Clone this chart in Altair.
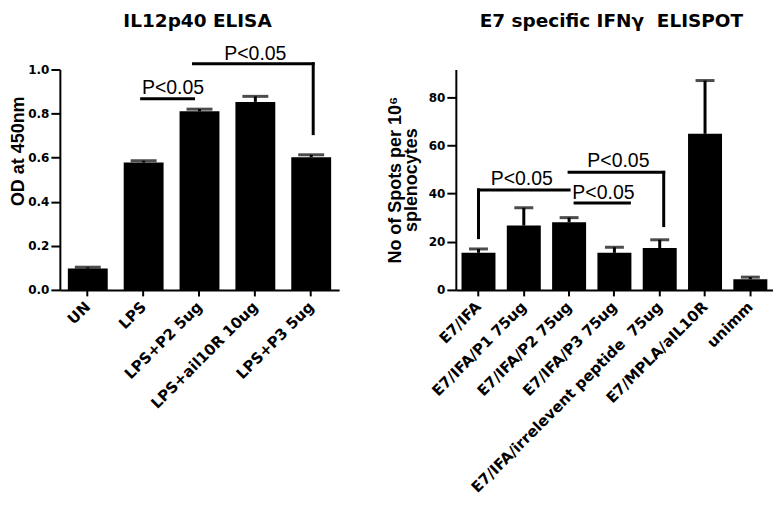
import altair as alt
import pandas as pd

# ---------------- Panel A: IL12p40 ELISA ----------------
elisa_title = ["IL12p40 ELISA"]
elisa_ytitle = ["OD at 450nm"]
elisa_groups = ["UN", "LPS", "LPS+P2 5ug", "LPS+ail10R 10ug", "LPS+P3 5ug"]
elisa_od = [0.097, 0.578, 0.810, 0.853, 0.602]
elisa_sem = [0.006, 0.008, 0.010, 0.025, 0.011]
elisa_ticks = [0, 0.2, 0.4, 0.6, 0.8, 1.0]

# significance brackets: horizontal segments (from group, to group, level)
elisa_sig_from = ["LPS", "LPS+P2 5ug"]
elisa_sig_to = ["LPS+P2 5ug", "LPS+P3 5ug"]
elisa_sig_level = [0.867, 1.026]
# vertical drops (group, low, high)
elisa_drop_group = ["LPS+P3 5ug"]
elisa_drop_low = [0.709]
elisa_drop_high = [1.026]
# p-value labels (group, level)
elisa_p_group = ["LPS", "LPS+ail10R 10ug"]
elisa_p_level = [0.89, 1.044]
elisa_p_text = ["P<0.05", "P<0.05"]

# ---------------- Panel B: E7 specific IFNγ ELISPOT ----------------
spot_title = ["E7 specific IFN\u03b3\u00a0 ELISPOT"]
spot_ytitle = ["No of Spots per 10\u2076", "splenocytes"]
spot_groups = ["E7/IFA", "E7/IFA/P1 75ug", "E7/IFA/P2 75ug", "E7/IFA/P3 75ug",
               "E7/IFA/irrelevent peptide\u00a0 75ug", "E7/MPLA/aIL10R", "unimm"]
spot_mean = [15.4, 26.7, 28.1, 15.4, 17.4, 64.8, 4.4]
spot_sem = [1.6, 7.4, 1.9, 2.3, 3.4, 22.1, 0.9]
spot_ticks = [0, 20, 40, 60, 80]

spot_sig_from = ["E7/IFA", "E7/IFA/P2 75ug", "E7/IFA/P2 75ug"]
spot_sig_to = ["E7/IFA/P2 75ug", "E7/IFA/irrelevent peptide\u00a0 75ug", "E7/IFA/P3 75ug"]
spot_sig_level = [41.5, 48.8, 36.1]
spot_drop_group = ["E7/IFA", "E7/IFA/irrelevent peptide\u00a0 75ug"]
spot_drop_low = [21.7, 26.7]
spot_drop_high = [41.5, 48.8]
spot_p_group = ["E7/IFA/P1 75ug", "E7/IFA/P3 75ug", "E7/IFA/P3 75ug"]
spot_p_level = [43.6, 50.9, 37.8]
spot_p_text = ["P<0.05", "P<0.05", "P<0.05"]

# pixel nudges (style only)
elisa_sig_off = [(-2, -6), (-6, 2)]
elisa_drop_off = [2]
elisa_p_dx = [29.5, 0]
spot_sig_off = [(0, 0), (0, 4), (6, 15)]
spot_drop_off = [0, 4]
spot_p_dx = [-2, 4, -11]

BOLD_FONT = "DejaVu Sans"
TITLE_FONT = "Liberation Sans"
PLOT_H = 221


def build_panel(groups, means, sems, ymax, yticks, yfmt, width, pad_in, cap_size,
                sig_from, sig_to, sig_level, sig_off,
                drop_group, drop_low, drop_high, drop_off,
                p_group, p_level, p_text, p_dx,
                title, title_dx, ytitle, ytitle_mark):
    df = pd.DataFrame({"g": groups, "m": means,
                       "top": [m + s for m, s in zip(means, sems)]})
    xscale = alt.Scale(domain=groups, paddingInner=pad_in, paddingOuter=pad_in / 2)
    xaxis = alt.Axis(title=None, labelAngle=-45, labelAlign="right", labelBaseline="middle",
                     labelFont=BOLD_FONT, labelFontWeight="bold", labelFontSize=15,
                     labelColor="black", labelLimit=400, tickSize=6, labelPadding=8)
    x = alt.X("g:N", sort=groups, scale=xscale, axis=xaxis)
    yscale = alt.Scale(domain=[0, ymax], nice=False, zero=True)
    yaxis_kw = dict(values=yticks, format=yfmt, tickSize=9, labelPadding=2,
                    labelFont=BOLD_FONT, labelFontWeight="bold", labelFontSize=12,
                    labelColor="black", titleFont=TITLE_FONT, titleFontWeight="bold",
                    titleFontSize=18, titleColor="black")
    if ytitle_mark is None:
        yaxis = alt.Axis(title=ytitle, titlePadding=8, titleLineHeight=16, **yaxis_kw)
    else:
        yaxis = alt.Axis(title=None, **yaxis_kw)
    base = alt.Chart(df)
    bars = base.mark_bar(color="black").encode(x=x, y=alt.Y("m:Q", scale=yscale, axis=yaxis))
    err = base.mark_rule(color="black", strokeWidth=3).encode(x=x, y="m:Q", y2="top:Q")
    cap = base.mark_tick(color="black", orient="horizontal", size=cap_size, thickness=3).encode(
        x=x, y="top:Q")
    layers = [bars, err, cap]
    for f, t, lv, (o1, o2) in zip(sig_from, sig_to, sig_level, sig_off):
        d = pd.DataFrame({"g": [f], "g2": [t], "lv": [lv]})
        layers.append(alt.Chart(d).mark_rule(color="black", strokeWidth=3, strokeCap="square",
                                             xOffset=o1, x2Offset=o2).encode(
            x=alt.X("g:N", sort=groups, scale=xscale), x2="g2:N", y="lv:Q"))
    for g, lo, hi, o in zip(drop_group, drop_low, drop_high, drop_off):
        d = pd.DataFrame({"g": [g], "lo": [lo], "hi": [hi]})
        layers.append(alt.Chart(d).mark_rule(color="black", strokeWidth=3, strokeCap="square",
                                             xOffset=o).encode(
            x=alt.X("g:N", sort=groups, scale=xscale), y="lo:Q", y2="hi:Q"))
    for g, lv, txt, dx in zip(p_group, p_level, p_text, p_dx):
        d = pd.DataFrame({"g": [g], "lv": [lv], "t": [txt]})
        layers.append(alt.Chart(d).mark_text(font=TITLE_FONT, fontSize=19.5, color="black",
                                             align="center", baseline="alphabetic", dx=dx).encode(
            x=alt.X("g:N", sort=groups, scale=xscale), y="lv:Q", text="t:N"))
    # panel title as a text mark above the plot
    layers.append(alt.Chart(pd.DataFrame({"t": title})).mark_text(
        font=BOLD_FONT, fontSize=18.5, fontWeight="bold", color="black",
        align="center", baseline="top").encode(
        x=alt.value(width / 2 + title_dx), y=alt.value(-58), text="t:N"))
    if ytitle_mark is not None:
        tx, ty = ytitle_mark
        layers.append(alt.Chart(pd.DataFrame({"t": ytitle})).mark_text(
            font=TITLE_FONT, fontSize=18, fontWeight="bold", color="black",
            align="center", baseline="middle", angle=270).encode(
            x=alt.value(tx), y=alt.value(ty), text="t:N"))
    return alt.layer(*layers).properties(width=width, height=PLOT_H)


left = build_panel(elisa_groups, elisa_od, elisa_sem, 1.0, elisa_ticks, ".1f",
                   280, 0.286, 26,
                   elisa_sig_from, elisa_sig_to, elisa_sig_level, elisa_sig_off,
                   elisa_drop_group, elisa_drop_low, elisa_drop_high, elisa_drop_off,
                   elisa_p_group, elisa_p_level, elisa_p_text, elisa_p_dx,
                   elisa_title, -2, elisa_ytitle, (-41, 82))

right = build_panel(spot_groups, spot_mean, spot_sem, 91.5, spot_ticks, "d",
                    318, 0.25, 19,
                    spot_sig_from, spot_sig_to, spot_sig_level, spot_sig_off,
                    spot_drop_group, spot_drop_low, spot_drop_high, spot_drop_off,
                    spot_p_group, spot_p_level, spot_p_text, spot_p_dx,
                    spot_title, -3, spot_ytitle, None)

chart = alt.hconcat(left, right, spacing=47).properties(
    padding={"top": 3, "left": 2, "right": 0, "bottom": 0}).configure_view(
    stroke=None).configure_axis(grid=False, domainColor="black", tickColor="black",
                                domainWidth=2, tickWidth=2)

chart.save("out.html", embed_options={"renderer": "svg", "actions": False})
